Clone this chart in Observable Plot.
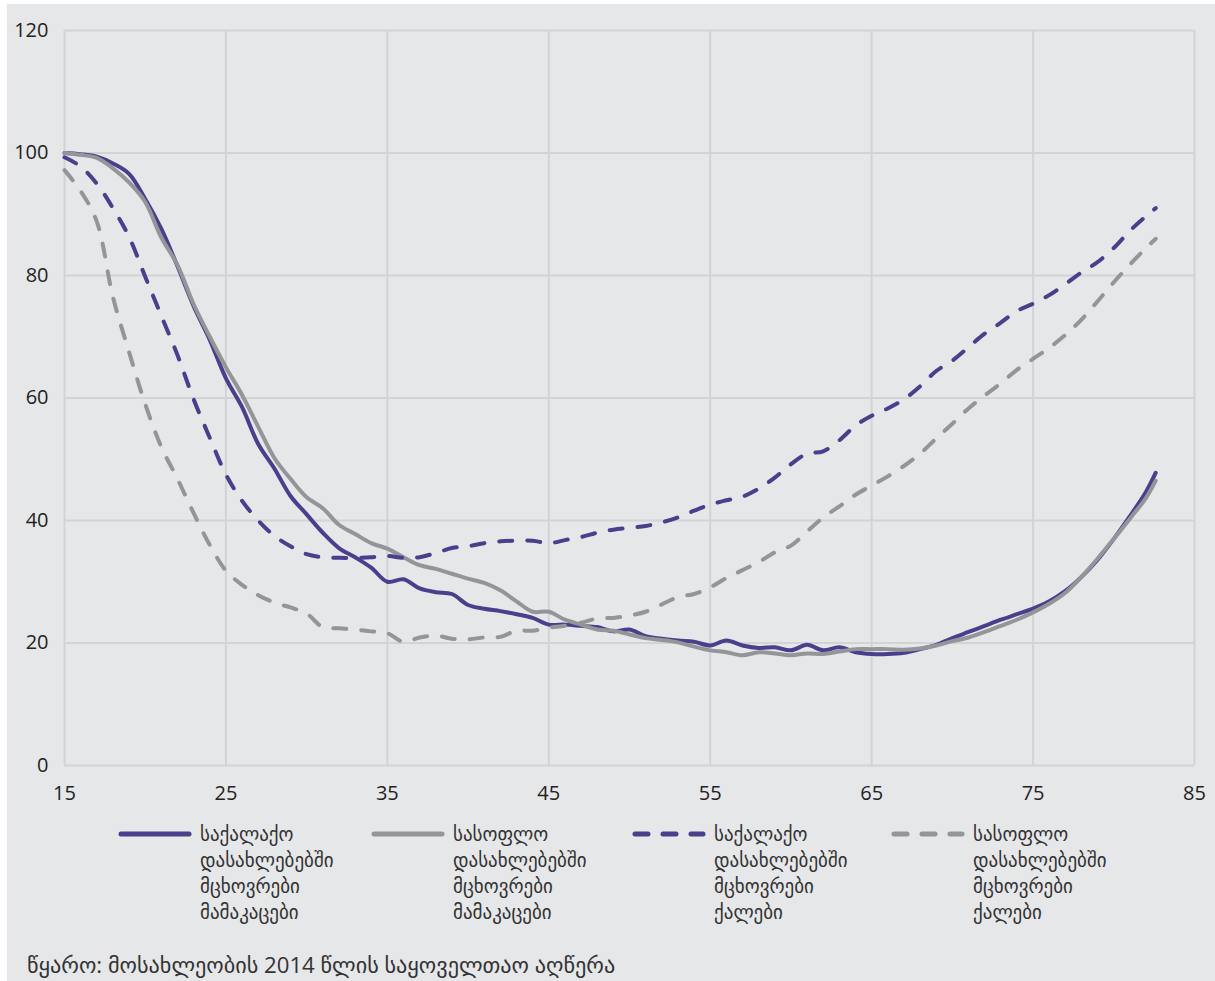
<!DOCTYPE html>
<html>
<head>
<meta charset="utf-8">
<script src="https://cdn.jsdelivr.net/npm/d3@7"></script>
<script src="https://cdn.jsdelivr.net/npm/@observablehq/plot@0.6"></script>
<style>
  html, body { margin: 0; padding: 0; background: #ffffff; }
  #frame { position: absolute; left: 7px; top: 4px; width: 1208px; height: 977px; background: #e6e7e9; font-family: "Open Sans", "DejaVu Sans", sans-serif; }
  #chart { position: absolute; left: 0; top: 0; }
  #legend { position: absolute; left: 0; top: 817px; width: 1208px; height: 110px; }
  .item { position: absolute; top: 0; }
  .sw { position: absolute; top: 7px; left: 0; }
  .lbl { position: absolute; top: 0; font-size: 19px; line-height: 26px; color: #333; white-space: nowrap; }
  #caption { position: absolute; left: 20px; top: 945px; font-size: 22.2px; color: #333; white-space: nowrap; }
</style>
</head>
<body>
<div id="frame">
  <div id="chart"></div>
  <div id="legend"></div>
  <div id="caption"></div>
</div>
<script>
// ---- data ----
const ages = [15,16,17,18,19,20,21,22,23,24,25,26,27,28,29,30,31,32,33,34,35,36,37,38,39,40,41,42,43,44,45,46,47,48,49,50,51,52,53,54,55,56,57,58,59,60,61,62,63,64,65,66,67,68,69,70,71,72,73,74,75,76,77,78,79,80,81,82,82.6];

const urbanMen = [100,99.8,99.4,98.3,96.6,92.5,87.6,81.5,75.0,69.5,63.2,58.5,52.5,48.5,44.0,41.0,38.0,35.5,34.0,32.3,30.0,30.4,28.9,28.3,28.0,26.2,25.6,25.2,24.7,24.1,23.0,23.0,22.8,22.6,21.9,22.2,21.1,20.7,20.4,20.2,19.6,20.4,19.6,19.2,19.3,18.8,19.7,18.8,19.3,18.5,18.2,18.2,18.4,19.0,19.7,20.8,21.8,22.8,23.8,24.7,25.6,26.8,28.5,30.8,33.6,37.0,40.7,44.7,47.8];

const ruralMen = [100,99.7,99.2,97.5,95.2,92.0,86.2,81.7,75.3,70.0,65.0,60.5,55.3,50.2,46.8,43.8,42.0,39.3,37.8,36.3,35.4,34.0,32.7,32.1,31.3,30.5,29.8,28.6,26.8,25.1,25.1,23.8,23.0,22.2,22.0,21.4,20.8,20.5,20.1,19.4,18.8,18.5,18.0,18.5,18.3,18.0,18.3,18.2,18.6,19.0,19.0,19.0,18.9,19.1,19.6,20.3,20.9,21.8,22.8,23.8,25.0,26.4,28.2,30.8,33.8,37.0,40.3,43.7,46.5];

const urbanWomen = [99.3,97.8,95.0,91.0,86.3,79.8,73.4,67.0,59.8,53.5,47.5,43.2,40.0,37.5,35.8,34.5,34.0,33.9,33.9,34.0,34.2,33.9,34.0,34.7,35.5,35.8,36.3,36.6,36.7,36.7,36.3,36.8,37.3,38.0,38.5,38.8,39.1,39.7,40.5,41.6,42.6,43.3,43.9,45.2,47.0,49.2,50.9,51.3,53.1,55.5,57.1,58.3,59.8,61.9,64.4,66.1,68.3,70.5,72.3,74.2,75.4,76.8,78.6,80.5,82.2,84.5,87.3,89.7,91.0];

const ruralWomen = [97.2,93.8,88.8,76.5,67.5,59.0,52.0,46.8,41.2,36.0,31.8,29.5,27.8,26.6,25.8,24.8,22.6,22.4,22.2,21.9,21.6,20.2,20.9,21.2,20.7,20.6,20.9,21.0,22.0,22.0,22.5,22.8,23.3,24.0,24.1,24.5,25.1,26.3,27.5,28.0,29.1,30.6,31.9,33.2,34.8,35.9,38.2,40.5,42.3,44.2,45.7,47.2,48.9,50.9,53.4,55.8,58.3,60.4,62.4,64.6,66.4,68.2,70.3,72.8,75.8,78.9,81.8,84.5,86.0];

const seriesNames = [
  "საქალაქო დასახლებებში მცხოვრები მამაკაცები",
  "სასოფლო დასახლებებში მცხოვრები მამაკაცები",
  "საქალაქო დასახლებებში მცხოვრები ქალები",
  "სასოფლო დასახლებებში მცხოვრები ქალები"
];
const legendLines = [
  ["საქალაქო", "დასახლებებში", "მცხოვრები", "მამაკაცები"],
  ["სასოფლო", "დასახლებებში", "მცხოვრები", "მამაკაცები"],
  ["საქალაქო", "დასახლებებში", "მცხოვრები", "ქალები"],
  ["სასოფლო", "დასახლებებში", "მცხოვრები", "ქალები"]
];
const xTicks = [15,25,35,45,55,65,75,85];
const yTicks = [0,20,40,60,80,100,120];
const caption = "წყარო: მოსახლეობის 2014 წლის საყოველთაო აღწერა";

// ---- styles ----
const purple = "#4b3e8d";
const gray = "#939598";
const styles = [
  {stroke: purple, dash: null},
  {stroke: gray, dash: null},
  {stroke: purple, dash: "13,15"},
  {stroke: gray, dash: "13,15"}
];
const valueSets = [urbanMen, ruralMen, urbanWomen, ruralWomen];

const tables = valueSets.map((vals, i) => ages.map((a, j) => ({age: a, value: vals[j], series: seriesNames[i]})));

const lineMarks = tables.map((t, i) => Plot.line(t, {
  x: "age", y: "value",
  stroke: styles[i].stroke,
  strokeWidth: 4,
  strokeDasharray: styles[i].dash || undefined,
  strokeLinecap: "round",
  strokeLinejoin: "round",
  curve: "catmull-rom"
}));

const chart = Plot.plot({
  width: 1208,
  height: 801,
  marginLeft: 57,
  marginRight: 21,
  marginTop: 26,
  marginBottom: 40,
  style: {background: "transparent", fontFamily: "'Open Sans', 'DejaVu Sans', sans-serif", fontSize: "20px", color: "#222"},
  x: {domain: [15, 85], ticks: xTicks, tickSize: 0, tickPadding: 20, label: null},
  y: {domain: [0, 120], ticks: yTicks, tickSize: 0, tickPadding: 16, label: null},
  marks: [
    Plot.gridX(xTicks, {stroke: "#d2d3d5", strokeOpacity: 1, strokeWidth: 2}),
    Plot.gridY(yTicks, {stroke: "#d2d3d5", strokeOpacity: 1, strokeWidth: 2}),
    Plot.axisX({ticks: xTicks, tickSize: 0, tickPadding: 20, fontSize: 20}),
    Plot.axisY({ticks: yTicks, tickSize: 0, tickPadding: 16, fontSize: 20}),
    ...lineMarks
  ]
});
document.getElementById("chart").appendChild(chart);

// ---- legend ----
const legendX = [111, 364, 625, 884];
const legend = document.getElementById("legend");
legendLines.forEach((lines, i) => {
  const item = document.createElement("div");
  item.className = "item";
  item.style.left = legendX[i] + "px";
  const ns = "http://www.w3.org/2000/svg";
  const svg = document.createElementNS(ns, "svg");
  svg.setAttribute("width", 74); svg.setAttribute("height", 12);
  svg.setAttribute("class", "sw");
  const ln = document.createElementNS(ns, "line");
  ln.setAttribute("x1", 3); ln.setAttribute("x2", 71);
  ln.setAttribute("y1", 6); ln.setAttribute("y2", 6);
  ln.setAttribute("stroke", styles[i].stroke);
  ln.setAttribute("stroke-width", 5);
  ln.setAttribute("stroke-linecap", "round");
  if (styles[i].dash) ln.setAttribute("stroke-dasharray", "13,15");
  svg.appendChild(ln);
  item.appendChild(svg);
  const lbl = document.createElement("div");
  lbl.className = "lbl";
  lbl.style.left = "82px";
  lbl.innerHTML = lines.join("<br>");
  item.appendChild(lbl);
  legend.appendChild(item);
});
document.getElementById("caption").textContent = caption;
</script>
</body>
</html>
